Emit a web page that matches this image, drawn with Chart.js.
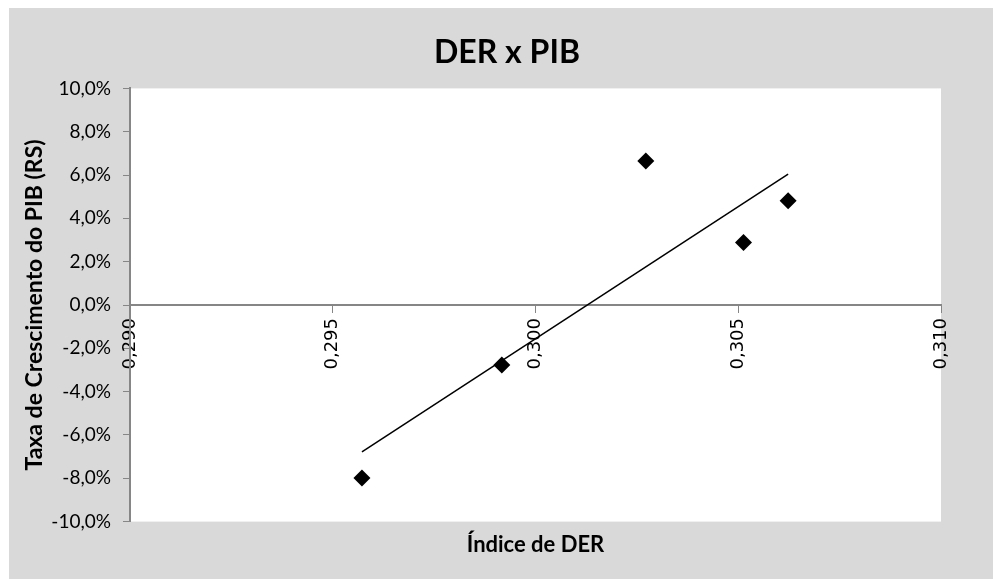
<!DOCTYPE html>
<html>
<head>
<meta charset="utf-8">
<title>DER x PIB</title>
<script src="https://cdn.jsdelivr.net/npm/chart.js@4/dist/chart.umd.min.js"></script>
<style>
  html, body { margin: 0; padding: 0; background: #ffffff; }
  canvas { display: block; }
</style>
</head>
<body>
<canvas id="der-chart" width="993" height="579"></canvas>
<script>
// values
const derIndex = [0.29572, 0.29917, 0.30272, 0.30513, 0.30623];
const pibGrowth = [-7.99, -2.77, 6.65, 2.88, 4.81]; // in %

// linear trend line, ends as drawn in the picture
const trendX = [0.29572, 0.30623];
const trendY = [-6.78, 6.04];

const xTickLabels = ['0,290', '0,295', '0,300', '0,305', '0,310'];
const yTickLabels = ['-10,0%', '-8,0%', '-6,0%', '-4,0%', '-2,0%', '0,0%', '2,0%', '4,0%', '6,0%', '8,0%', '10,0%'];

const axisGray = '#868686';

// gray chart background with white plot area
const backdrop = {
  id: 'backdrop',
  afterLayout(chart) {
    // main title is centred a bit right of the full width in the picture
    if (chart.titleBlock) chart.titleBlock.left += 64;
  },
  beforeDraw(chart) {
    const { ctx, chartArea } = chart;
    ctx.save();
    ctx.fillStyle = '#d9d9d9';
    ctx.fillRect(9, 8, chart.width - 9, chart.height - 8);
    ctx.fillStyle = '#ffffff';
    ctx.fillRect(chartArea.left, chartArea.top, chartArea.right - chartArea.left, chartArea.bottom - chartArea.top);
    ctx.restore();
  },
};

const ctx = document.getElementById('der-chart').getContext('2d');

new Chart(ctx, {
  type: 'scatter',
  data: {
    datasets: [
      {
        label: 'DER x PIB',
        data: derIndex.map((x, i) => ({ x: x, y: pibGrowth[i] })),
        pointStyle: 'rectRot',
        pointRadius: 8.5,
        pointHoverRadius: 8.5,
        backgroundColor: '#000000',
        borderColor: '#000000',
        borderWidth: 0,
      },
      {
        label: 'Linear',
        data: trendX.map((x, i) => ({ x: x, y: trendY[i] })),
        showLine: true,
        pointRadius: 0,
        borderColor: '#000000',
        borderWidth: 1.5,
      },
    ],
  },
  options: {
    responsive: false,
    animation: false,
    layout: { padding: { left: 9, right: 52, top: 8, bottom: 0 } },
    plugins: {
      legend: { display: false },
      tooltip: { enabled: false },
      title: {
        display: true,
        text: 'DER x PIB',
        color: '#000000',
        font: { family: 'Lato', size: 32, weight: 'bold' },
        padding: { top: 25, bottom: 17 },
      },
      subtitle: {
        display: true,
        position: 'bottom',
        fullSize: false,
        text: 'Índice de DER',
        color: '#000000',
        font: { family: 'Lato', size: 22, weight: 'bold' },
        padding: { top: 10, bottom: 21 },
      },
    },
    scales: {
      x: {
        type: 'linear',
        position: { y: 0 },
        min: 0.29,
        max: 0.31,
        afterFit: (scale) => { scale.height = 0; },
        afterBuildTicks: (scale) => {
          scale.ticks = xTickLabels.map((t, i) => ({ value: 0.29 + i * 0.005 }));
        },
        ticks: {
          minRotation: 90,
          maxRotation: 90,
          padding: 6,
          color: '#000000',
          font: { family: 'DejaVu Sans', size: 18 },
          callback: (v, i) => xTickLabels[i],
        },
        grid: { display: true, drawOnChartArea: false, drawTicks: true, tickLength: 7, color: axisGray },
        border: { display: true, color: axisGray, width: 2 },
      },
      y: {
        min: -10,
        max: 10,
        afterFit: (scale) => { scale.width = 121; },
        ticks: {
          stepSize: 2,
          padding: 12,
          color: '#000000',
          font: { family: 'Lato', size: 19 },
          callback: (v, i) => yTickLabels[i],
        },
        grid: { display: true, drawOnChartArea: false, drawTicks: true, tickLength: 7, color: axisGray },
        border: { display: true, color: axisGray, width: 2 },
        title: {
          display: true,
          text: 'Taxa de Crescimento do PIB (RS)',
          color: '#000000',
          font: { family: 'Lato', size: 23, weight: 'bold' },
          padding: { top: 12, bottom: 0 },
        },
      },
    },
  },
  plugins: [backdrop],
});
</script>
</body>
</html>
